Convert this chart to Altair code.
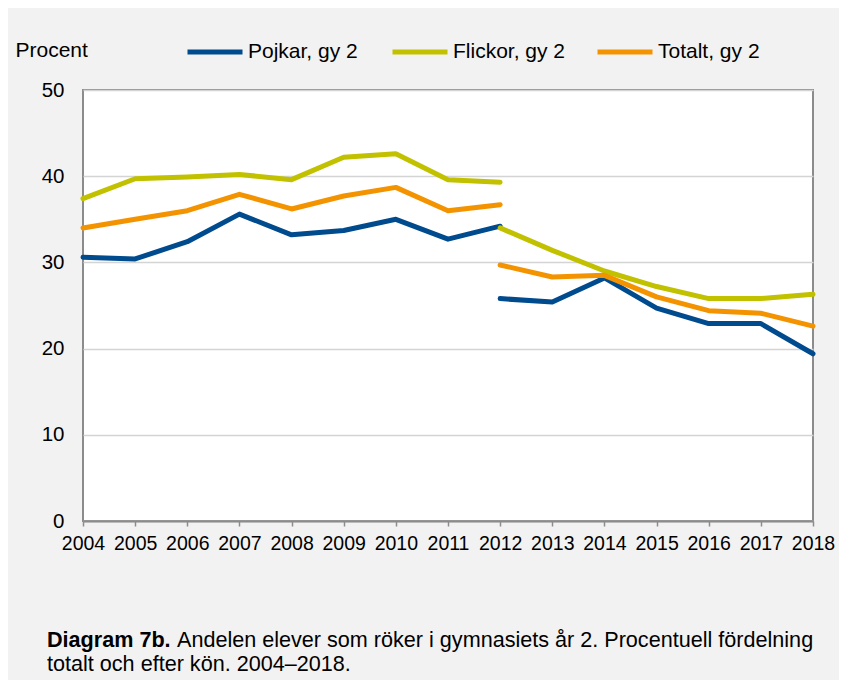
import altair as alt
import pandas as pd

years_a = [2004, 2005, 2006, 2007, 2008, 2009, 2010, 2011, 2012]
years_b = [2012, 2013, 2014, 2015, 2016, 2017, 2018]

pojkar_a = [30.6, 30.4, 32.4, 35.6, 33.2, 33.7, 35.0, 32.7, 34.2]
pojkar_b = [25.8, 25.4, 28.2, 24.7, 22.9, 22.9, 19.4]
flickor_a = [37.4, 39.7, 39.9, 40.2, 39.6, 42.2, 42.6, 39.6, 39.3]
flickor_b = [34.0, 31.4, 29.0, 27.2, 25.8, 25.8, 26.3]
totalt_a = [34.0, 35.0, 36.0, 37.9, 36.2, 37.7, 38.7, 36.0, 36.7]
totalt_b = [29.7, 28.3, 28.5, 26.0, 24.4, 24.1, 22.6]

series_names = ["Pojkar, gy 2", "Flickor, gy 2", "Totalt, gy 2"]
series_colors = ["#004b8d", "#c1c100", "#f49300"]
x_ticks = list(range(2004, 2019))
y_ticks = [0, 10, 20, 30, 40, 50]

caption_bold = "Diagram 7b."
caption_rest = "Andelen elever som röker i gymnasiets år 2. Procentuell fördelning"
caption_line2 = "totalt och efter kön. 2004–2018."

rows = []
for name, a, b in zip(series_names,
                      [pojkar_a, flickor_a, totalt_a],
                      [pojkar_b, flickor_b, totalt_b]):
    for y, v in zip(years_a, a):
        rows.append({"serie": name, "seg": name + "a", "year": y, "value": v})
    for y, v in zip(years_b, b):
        rows.append({"serie": name, "seg": name + "b", "year": y, "value": v})
df = pd.DataFrame(rows)

FONT = "Liberation Sans"
CAP = 21.6

lines = alt.Chart(df).mark_line(strokeWidth=5, strokeCap="round", strokeJoin="round").encode(
    x=alt.X("year:Q",
            scale=alt.Scale(domain=[2004, 2018], nice=False, zero=False),
            axis=alt.Axis(values=x_ticks, format="d", title=None, grid=False,
                          labelFontSize=19.5, labelPadding=8, tickSize=5,
                          tickColor="#8c8c8c", tickWidth=1.5,
                          domainColor="#8c8c8c", domainWidth=2,
                          labelFlush=False, labelColor="#000000")),
    y=alt.Y("value:Q",
            scale=alt.Scale(domain=[0, 50], nice=False),
            axis=alt.Axis(values=y_ticks, title="Procent", titleAngle=0,
                          titleX=-68, titleY=-40, titleAlign="left",
                          titleBaseline="middle", titleFontSize=21,
                          titleFontWeight="normal", titleColor="#000000",
                          labelFontSize=20.5, labelPadding=19, ticks=False,
                          tickSize=0, domain=False, grid=True,
                          gridColor="#d4d4d4", gridWidth=1.5,
                          labelColor="#000000")),
    color=alt.Color("serie:N",
                    scale=alt.Scale(domain=series_names, range=series_colors),
                    legend=alt.Legend(orient="none", legendX=102, legendY=-68,
                                      direction="horizontal", columns=3,
                                      title=None, symbolType="stroke",
                                      symbolSize=3025, symbolStrokeWidth=5,
                                      labelFontSize=21, labelOffset=3,
                                      labelColor="#000000",
                                      columnPadding=21, gridAlign="all",
                                      labelLimit=300)),
    detail="seg:N",
)

t1 = alt.Chart(pd.DataFrame({"t": [caption_bold]})).mark_text(
    align="left", baseline="alphabetic", fontSize=CAP, fontWeight="bold",
    color="#000000").encode(x=alt.value(-36), y=alt.value(557), text="t:N")
t2 = alt.Chart(pd.DataFrame({"t": [caption_rest]})).mark_text(
    align="left", baseline="alphabetic", fontSize=CAP,
    color="#000000").encode(x=alt.value(94), y=alt.value(557), text="t:N")
t3 = alt.Chart(pd.DataFrame({"t": [caption_line2]})).mark_text(
    align="left", baseline="alphabetic", fontSize=CAP,
    color="#000000").encode(x=alt.value(-36), y=alt.value(581), text="t:N")

chart = alt.layer(lines, t1, t2, t3).properties(
    width=730, height=431,
    padding={"left": 75, "top": 82, "right": 26, "bottom": 159},
    autosize=alt.AutoSizeParams(type="none"),
    background="#f2f2f2",
).configure(font=FONT).configure_view(
    fill="#ffffff", stroke="#8c8c8c", strokeWidth=2
)

chart.save("out.html", embed_options={"renderer": "svg", "actions": False})
